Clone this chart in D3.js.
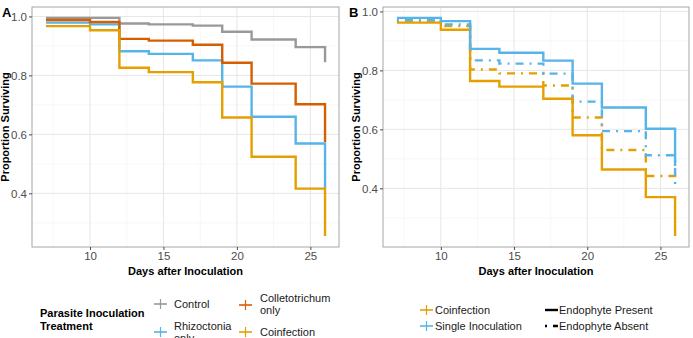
<!DOCTYPE html>
<html>
<head>
<meta charset="utf-8">
<script src="https://cdn.jsdelivr.net/npm/d3@7"></script>
<style>
  body { margin: 0; background: #fff; }
  svg { font-family: "Liberation Sans", Arial, sans-serif; }
  .tick text { fill: #4d4d4d; font-size: 11.5px; }
  .tick line { stroke: #4d4d4d; }
</style>
</head>
<body>
<div id="the_chart"></div>
<script>
// days where the survival curves step
var days = [7, 10, 12, 14, 17, 19, 21, 24, 26];

// panel A: parasite inoculation treatment
var controlA = [0.995, 0.995, 0.976, 0.973, 0.969, 0.948, 0.922, 0.896, 0.845];
var colletoA = [0.988, 0.981, 0.924, 0.918, 0.904, 0.843, 0.772, 0.702, 0.574];
var rhizoA   = [0.979, 0.973, 0.882, 0.873, 0.851, 0.762, 0.660, 0.569, 0.416];
var coinfA   = [0.967, 0.953, 0.826, 0.811, 0.777, 0.657, 0.524, 0.416, 0.255];

// panel B: coinfection vs single, endophyte present / absent
var coinfPresentB  = [0.962, 0.938, 0.764, 0.745, 0.704, 0.580, 0.464, 0.370, 0.238];
var coinfAbsentB   = [0.966, 0.950, 0.803, 0.790, 0.749, 0.640, 0.530, 0.442, 0.425];
var singlePresentB = [0.978, 0.967, 0.873, 0.860, 0.833, 0.755, 0.674, 0.602, 0.476];
var singleAbsentB  = [0.970, 0.956, 0.834, 0.823, 0.789, 0.694, 0.594, 0.512, 0.397];

var xTicks = [10, 15, 20, 25];
var yTicks = [0.4, 0.6, 0.8, 1.0];

var w = 693, h = 338;
var grey = "#999999", red = "#D55E00", blue = "#56B4E9", orange = "#E69F00";

var svg = d3.select("#the_chart").append("svg")
  .attr("width", w).attr("height", h);

function panel(left, right, series, label, labelX) {
  var top = 7, bottom = 247;
  var all = [].concat.apply([], series.map(function (s) { return s.values; }));
  var lo = d3.min(all), hi = d3.max(all), e = (hi - lo) * 0.05;
  var xscale = d3.scaleLinear().domain([6.05, 26.95]).range([left, right]);
  var yscale = d3.scaleLinear().domain([lo - e, hi + e]).range([bottom, top]);

  var g = svg.append("g");
  // minor grid
  g.selectAll(".vminor").data([7.5, 12.5, 17.5, 22.5]).enter().append("line")
    .attr("x1", xscale).attr("x2", xscale).attr("y1", top).attr("y2", bottom)
    .attr("stroke", "#f2f2f2").attr("stroke-width", 0.6);
  g.selectAll(".hminor").data([0.3, 0.5, 0.7, 0.9]).enter().append("line")
    .attr("y1", yscale).attr("y2", yscale).attr("x1", left).attr("x2", right)
    .attr("stroke", "#f2f2f2").attr("stroke-width", 0.6);
  // major grid
  g.selectAll(".vmajor").data(xTicks).enter().append("line")
    .attr("x1", xscale).attr("x2", xscale).attr("y1", top).attr("y2", bottom)
    .attr("stroke", "#e6e6e6").attr("stroke-width", 1);
  g.selectAll(".hmajor").data(yTicks).enter().append("line")
    .attr("y1", yscale).attr("y2", yscale).attr("x1", left).attr("x2", right)
    .attr("stroke", "#e6e6e6").attr("stroke-width", 1);

  var line = d3.line()
    .x(function (d, i) { return xscale(days[i]); })
    .y(function (d) { return yscale(d); })
    .curve(d3.curveStepAfter);

  series.forEach(function (s) {
    // the last value is only a drop at day 26
    g.append("path")
      .attr("d", line(s.values))
      .attr("fill", "none")
      .attr("stroke", s.color)
      .attr("stroke-width", 2.4)
      .attr("stroke-dasharray", s.dash || null);
  });

  // panel border
  g.append("rect").attr("x", left).attr("y", top)
    .attr("width", right - left).attr("height", bottom - top)
    .attr("fill", "none").attr("stroke", "#a6a6a6").attr("stroke-width", 1);

  var yaxis = d3.axisLeft(yscale).tickValues(yTicks).tickFormat(d3.format(".1f")).tickSize(3).tickPadding(2);
  g.append("g").attr("transform", "translate(" + left + ",0)").call(yaxis)
    .call(function (a) { a.select(".domain").remove(); });
  var xaxis = d3.axisBottom(xscale).tickValues(xTicks).tickSize(3).tickPadding(2);
  g.append("g").attr("transform", "translate(0," + bottom + ")").call(xaxis)
    .call(function (a) { a.select(".domain").remove(); });

  g.append("text").attr("x", (left + right) / 2).attr("y", 275)
    .attr("text-anchor", "middle").attr("font-size", 11).attr("font-weight", "bold")
    .text("Days after Inoculation");
  g.append("text").attr("transform", "translate(" + (left - 23) + "," + (top + bottom) / 2 + ") rotate(-90)")
    .attr("text-anchor", "middle").attr("font-size", 11).attr("font-weight", "bold")
    .text("Proportion Surviving");
  g.append("text").attr("x", labelX).attr("y", 17)
    .attr("font-size", 13).attr("font-weight", "bold").text(label);
}

panel(32, 339, [
  {values: controlA, color: grey},
  {values: rhizoA, color: blue},
  {values: colletoA, color: red},
  {values: coinfA, color: orange}
], "A", 2);

panel(383, 689, [
  {values: coinfAbsentB, color: orange, dash: "2,6,8,6"},
  {values: singleAbsentB, color: blue, dash: "2,6,8,6"},
  {values: coinfPresentB, color: orange},
  {values: singlePresentB, color: blue}
], "B", 349);

// legend keys: line with a censor "+" mark
function crossKey(x, y, color) {
  svg.append("line").attr("x1", x).attr("x2", x + 13).attr("y1", y).attr("y2", y)
    .attr("stroke", color).attr("stroke-width", 1.6);
  svg.append("line").attr("x1", x + 6.5).attr("x2", x + 6.5).attr("y1", y - 5).attr("y2", y + 5)
    .attr("stroke", color).attr("stroke-width", 1.2);
}
function label(x, y, lines) {
  var t = svg.append("text").attr("x", x).attr("y", y).attr("font-size", 11).attr("fill", "#1a1a1a");
  lines.forEach(function (s, i) {
    t.append("tspan").attr("x", x).attr("dy", i ? 12 : 0).text(s);
  });
}
var legA = svg.append("text").attr("x", 40).attr("y", 317).attr("font-size", 11).attr("font-weight", "bold");
legA.append("tspan").attr("x", 40).text("Parasite Inoculation");
legA.append("tspan").attr("x", 40).attr("dy", 12.5).text("Treatment");
crossKey(154, 304, grey);   label(174, 308, ["Control"]);
crossKey(154, 332, blue);   label(174, 330, ["Rhizoctonia", "only"]);
crossKey(239, 305, red);    label(260, 302, ["Colletotrichum", "only"]);
crossKey(239, 332, orange); label(260, 336, ["Coinfection"]);

// legend B
crossKey(420, 310, orange); label(435, 314, ["Coinfection"]);
crossKey(420, 326, blue);   label(435, 330, ["Single Inoculation"]);
svg.append("line").attr("x1", 545).attr("x2", 558).attr("y1", 310).attr("y2", 310)
  .attr("stroke", "#000").attr("stroke-width", 2.4);
svg.append("line").attr("x1", 545).attr("x2", 558).attr("y1", 326).attr("y2", 326)
  .attr("stroke", "#000").attr("stroke-width", 2.4).attr("stroke-dasharray", "2,6,5,6");
label(559, 314, ["Endophyte Present"]);
label(559, 330, ["Endophyte Absent"]);
</script>
</body>
</html>
